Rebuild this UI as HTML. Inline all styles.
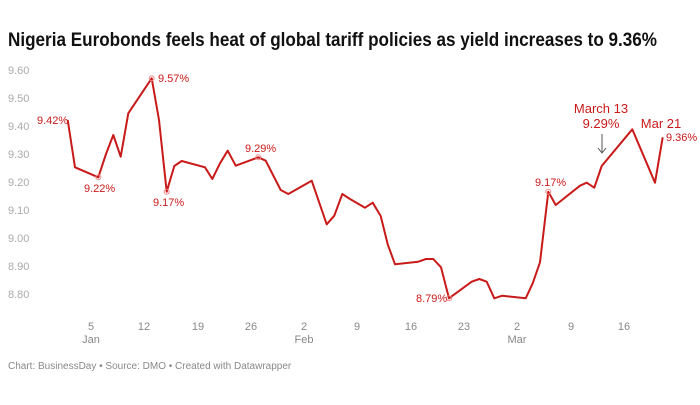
<!DOCTYPE html>
<html><head><style>
body{margin:0;background:#fff;}
svg text{font-family:"Liberation Sans",sans-serif;}
</style></head><body>
<svg width="700" height="400" xmlns="http://www.w3.org/2000/svg">
<rect width="700" height="400" fill="#fff"/>
<text x="8" y="46" font-size="19" font-weight="bold" fill="#111" textLength="649" lengthAdjust="spacingAndGlyphs">Nigeria Eurobonds feels heat of global tariff policies as yield increases to 9.36%</text>
<g font-size="11" fill="#aaa">
<text x="8" y="74">9.60</text><text x="8" y="102">9.50</text><text x="8" y="130">9.40</text><text x="8" y="158">9.30</text><text x="8" y="186">9.20</text><text x="8" y="214">9.10</text><text x="8" y="242">9.00</text><text x="8" y="270">8.90</text><text x="8" y="298">8.80</text>
</g>
<g font-size="11" fill="#888" text-anchor="middle">
<text x="91" y="330">5</text><text x="91" y="343">Jan</text>
<text x="144" y="330">12</text><text x="198" y="330">19</text><text x="251" y="330">26</text>
<text x="304" y="330">2</text><text x="304" y="343">Feb</text>
<text x="357" y="330">9</text><text x="411" y="330">16</text><text x="464" y="330">23</text>
<text x="517" y="330">2</text><text x="517" y="343">Mar</text>
<text x="571" y="330">9</text><text x="624" y="330">16</text>
</g>
<polyline fill="none" stroke="#c91a1a" stroke-width="2" stroke-linejoin="round" points="67.7,120 75,167.3 98.3,177.3 106,154 113.3,135 120.7,156.7 128.3,113.3 151.7,78.3 159,120 166.7,191.7 174.3,166 181.7,161 205,167.3 212.3,179 220,163.3 227.7,150.7 235.7,165.7 258.3,157.3 265.7,160.7 280.7,190 288.3,194 311.7,180.7 326.7,224.3 334.3,215.7 342.3,194 350,199 365,207.7 372.7,202.7 380.7,216 387.7,244.3 395,264.3 418.3,261.7 426,259 433.3,259 441,267.3 449,298.3 471.7,281.7 479.3,279 486.7,281.7 494.3,298.3 502.3,295.7 525.7,298.3 532.7,283.3 540,262.3 548.3,191.7 555.7,205 580,185.7 586.7,182.7 594.3,187.7 601.7,166 632.3,129.3 655,182.7 662.7,137.3"/>
<g fill="none" stroke="#e88" stroke-width="1">
<circle cx="98.3" cy="177.3" r="2.5"/><circle cx="151.7" cy="78.3" r="2.5"/><circle cx="166.7" cy="191.7" r="2.5"/><circle cx="258.3" cy="157.3" r="2.5"/><circle cx="449" cy="298.3" r="2.5"/><circle cx="548.3" cy="191.7" r="2.5"/>
</g>
<g font-size="11" fill="#c91a1a">
<text x="37" y="124">9.42%</text>
<text x="84" y="192">9.22%</text>
<text x="158" y="82">9.57%</text>
<text x="153" y="206">9.17%</text>
<text x="245" y="152">9.29%</text>
<text x="416" y="302">8.79%</text>
<text x="535" y="186">9.17%</text>
<text x="666" y="141">9.36%</text>
</g>
<g font-size="13" fill="#c91a1a" text-anchor="middle">
<text x="601" y="113">March 13</text><text x="601" y="128">9.29%</text>
<text x="661" y="128">Mar 21</text>
</g>
<line x1="602" y1="134" x2="602" y2="153" stroke="#555" stroke-width="1"/>
<polyline points="598,148 602,153 606,148" fill="none" stroke="#555" stroke-width="1"/>
<text x="8" y="369" font-size="10" fill="#888">Chart: BusinessDay • Source: DMO • Created with Datawrapper</text>
</svg>
</body></html>
